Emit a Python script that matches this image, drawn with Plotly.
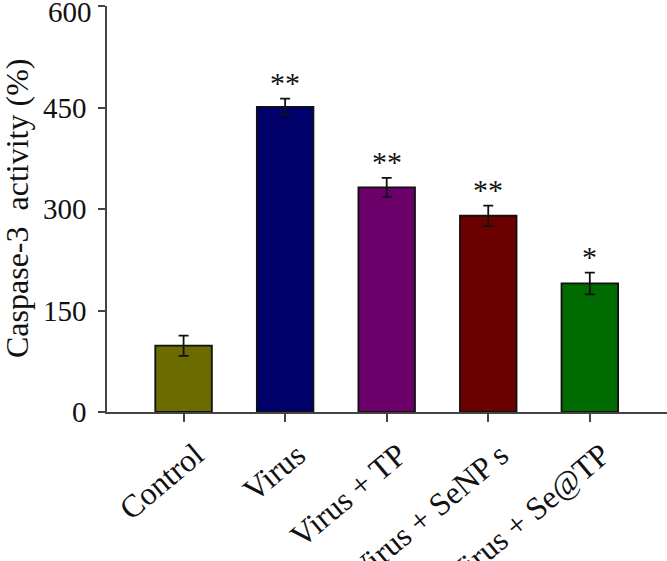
import plotly.graph_objects as go

categories = ["Control", "Virus", "Virus + TP", "Virus + SeNPs", "Virus + Se@TP"]
tick_labels = ["Control", "Virus", "Virus + TP", "Virus + SeNP s", "Virus + Se@TP"]
values = [98, 451, 332, 290, 190]
errors = [15, 12, 14, 15, 16]
stars = ["", "**", "**", "**", "*"]
colors = ["#6B6B00", "#00006B", "#6B006B", "#6B0000", "#006B00"]
y_ticks = [0, 150, 300, 450, 600]
y_tick_labels = ["0", "150", "300", "450", "600"]
y_title = "Caspase-3  activity (%)"

xs = list(range(len(categories)))
FONT = "'Liberation Serif', 'Times New Roman', serif"
YTICK_SIZE = 29

fig = go.Figure()
fig.add_trace(go.Bar(
    x=xs, y=values, width=0.557,
    marker=dict(color=colors, line=dict(color="#111111", width=1.8)),
    error_y=dict(type="data", array=errors, visible=True, color="#111111",
                 thickness=1.8, width=5),
    showlegend=False,
))

for x, v, e, s in zip(xs, values, errors, stars):
    if s:
        fig.add_annotation(x=x, y=v + e, text=s, showarrow=False,
                           yanchor="bottom", yshift=-2,
                           font=dict(family=FONT, size=30, color="#111111"))

# top y tick label is nudged down so it stays inside the page (as in the original)
fig.add_annotation(xref="paper", x=0, y=y_ticks[-1], text=y_tick_labels[-1],
                   showarrow=False, xanchor="right", yanchor="middle",
                   xshift=-13, yshift=-6,
                   font=dict(family=FONT, size=YTICK_SIZE, color="#111111"))

# y axis title
fig.add_annotation(xref="paper", yref="paper", x=0, y=0.5, text=y_title,
                   textangle=-90, showarrow=False, xanchor="center", yanchor="middle",
                   xshift=-90,
                   font=dict(family=FONT, size=32, color="#111111"))

fig.update_layout(
    width=667, height=561,
    margin=dict(l=107, r=0, t=6, b=149),
    plot_bgcolor="white", paper_bgcolor="white",
    font=dict(family=FONT, color="#111111"),
)
fig.update_xaxes(
    range=[-0.754, 4.76], tickmode="array", tickvals=xs, ticktext=tick_labels,
    tickangle=-40, ticks="outside", ticklen=8, tickwidth=1.5, tickcolor="#444444",
    showline=True, linecolor="#444444", linewidth=1.5, showgrid=False, zeroline=False,
    tickfont=dict(family=FONT, size=32, color="#111111"), automargin=False,
    ticklabelshift=12, ticklabelstandoff=2, ticklabeloverflow="allow",
)
fig.update_yaxes(
    range=[0, 600], tickmode="array", tickvals=y_ticks,
    ticktext=y_tick_labels[:-1] + [""],
    ticks="outside", ticklen=7, tickwidth=1.5, tickcolor="#444444",
    showline=True, linecolor="#444444", linewidth=1.5, showgrid=False, zeroline=False,
    tickfont=dict(family=FONT, size=YTICK_SIZE, color="#111111"), automargin=False,
    ticklabeloverflow="allow", ticklabelstandoff=6,
)

fig.write_html("out.html", config={"displayModeBar": False},
               post_script="document.body.style.margin='0px';")
